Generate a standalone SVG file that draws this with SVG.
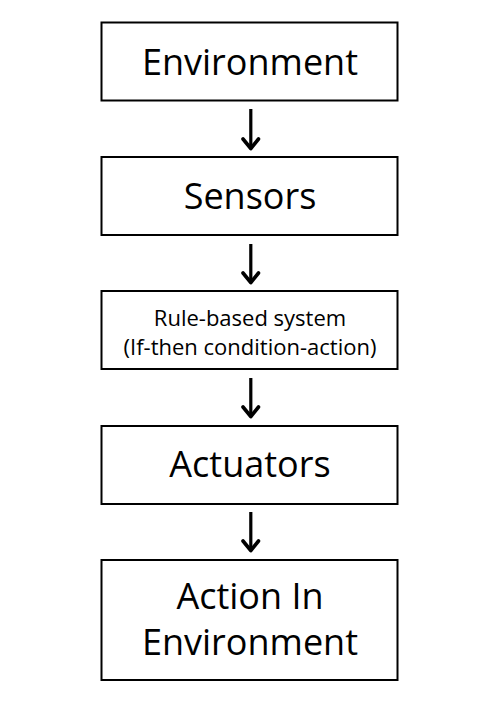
<svg xmlns="http://www.w3.org/2000/svg" width="500" height="708" viewBox="0 0 500 708">
<defs>
<style>
.box{fill:#fff;stroke:#000;stroke-width:2}
.t{font-family:"Open Sans","Noto Sans",sans-serif;fill:#000;text-anchor:middle}
.big{font-size:36px}
.small{font-size:22px}
.arr{stroke:#000;stroke-width:3.2;fill:none}
.head{stroke:#000;stroke-width:3.6;fill:none;stroke-linecap:round;stroke-linejoin:round}
</style>
</defs>
<rect width="500" height="708" fill="#fff"/>
<g id="env">
<rect class="box" x="101.5" y="22.5" width="296" height="78"/>
<text class="t big" x="250" y="75">Environment</text>
</g>
<g id="sensors">
<rect class="box" x="101.5" y="157" width="296" height="78"/>
<text class="t big" x="250" y="209">Sensors</text>
</g>
<g id="rules">
<rect class="box" x="101.5" y="291" width="296" height="78"/>
<text class="t small" x="250" y="326">Rule-based system</text>
<text class="t small" x="250" y="355">(If-then condition-action)</text>
</g>
<g id="actuators">
<rect class="box" x="101.5" y="426" width="296" height="78"/>
<text class="t big" x="250" y="477">Actuators</text>
</g>
<g id="action">
<rect class="box" x="101.5" y="560" width="296" height="120"/>
<text class="t big" x="250" y="609">Action In</text>
<text class="t big" x="250" y="655">Environment</text>
</g>
<g id="connectors">
<line class="arr" x1="250.8" y1="109" x2="250.8" y2="148"/>
<polyline class="head" points="243,139 250.8,148.5 258.5,139"/>
<line class="arr" x1="250.8" y1="244" x2="250.8" y2="282"/>
<polyline class="head" points="243,273 250.8,282.5 258.5,273"/>
<line class="arr" x1="250.8" y1="378" x2="250.8" y2="416"/>
<polyline class="head" points="243,407 250.8,416.5 258.5,407"/>
<line class="arr" x1="250.8" y1="512" x2="250.8" y2="550"/>
<polyline class="head" points="243,541 250.8,550.5 258.5,541"/>
</g>
</svg>
